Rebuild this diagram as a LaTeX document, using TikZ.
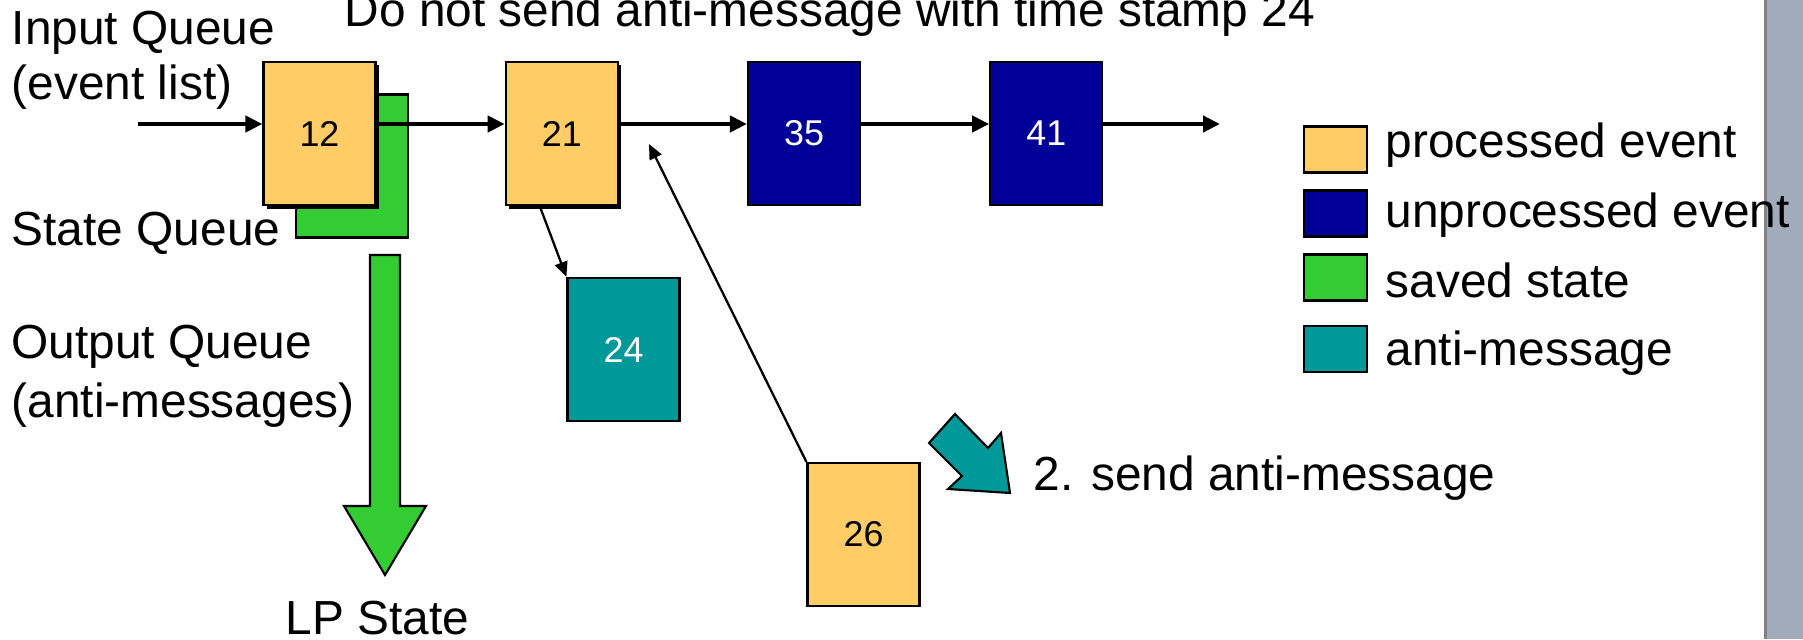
\documentclass[tikz,border=0pt]{standalone}
\usepackage{fontspec}
\setmainfont{Liberation Sans}
\usepackage{xcolor}
\usepackage{tikz}
\usetikzlibrary{positioning, arrows.meta, shadows}
\definecolor{procC}{HTML}{FFCC66}
\definecolor{unprocC}{HTML}{000099}
\definecolor{savedC}{HTML}{33CC33}
\definecolor{antiC}{HTML}{009999}
\definecolor{barC}{HTML}{A1ABB9}
\newcommand{\lbltxt}{\fontsize{13.6}{16}\selectfont}
\newcommand{\numtxt}{\fontsize{10.2}{12}\selectfont}
\tikzstyle{Arrow} = [line width=1.25pt, -{Triangle[length=0.17cm, width=0.16cm]}]
\tikzstyle{ThinArrow} = [line width=0.65pt, -{Triangle[length=0.15cm, width=0.13cm]}]
\tikzstyle{Event} = [draw, line width=0.6pt, minimum width=1.12cm, minimum height=1.43cm, inner sep=0pt, font=\numtxt]
\tikzstyle{Processed} = [Event, fill=procC, drop shadow={shadow xshift=0.035cm, shadow yshift=-0.035cm, fill=black, opacity=1}]
\tikzstyle{Unprocessed} = [Event, fill=unprocC, text=white]
\tikzstyle{Saved} = [Event, fill=savedC]
\tikzstyle{Anti} = [Event, fill=antiC, text=white]
\tikzstyle{Swatch} = [draw, line width=0.6pt, minimum width=0.63cm, minimum height=0.46cm, inner sep=0pt]
\tikzstyle{Label} = [anchor=base west, inner sep=0pt, font=\lbltxt]

\begin{document}
\begin{tikzpicture}[x=0.01cm, y=-0.01cm, node distance=1.28cm]
	\useasboundingbox (0,0) rectangle (1803,639);
	\fill[barC] (1764,0) rectangle (1803,639);
	\draw[black!50, line width=0.85pt] (1765.5,0) -- (1765.5,639);

	\node[Label] (title) at (344,26) {Do not send anti-message with time stamp 24};
	\node[Label] (iq1) at (11,44) {Input Queue};
	\node[Label] (iq2) at (11,99) {(event list)};
	\node[Label] (sq) at (11,245) {State Queue};
	\node[Label] (oq1) at (11,358) {Output Queue};
	\node[Label] (oq2) at (11,417) {(anti-messages)};
	\node[Label] (lp) at (285,634) {LP State};

	\node[Saved] (st) at (352,166) {};
	\node[Processed] (12) at (319.5,133.5) {12};
	\node[Processed, right =of 12] (21) {21};
	\node[Unprocessed, right =of 21] (35) {35};
	\node[Unprocessed, right =of 35] (41) {41};
	\node[Anti] (24) at (623.5,349.5) {24};
	\node[Event, fill=procC] (26) at (863.5,534.5) {26};

	\coordinate (in) at (138,124);
	\coordinate (out) at (1220,124);
	\coordinate (back) at (649,144);

	\draw[Arrow] (in) -- (in -| 12.west);
	\draw[Arrow] (in -| 12.east) -- (in -| 21.west);
	\draw[Arrow] (in -| 21.east) -- (in -| 35.west);
	\draw[Arrow] (in -| 35.east) -- (in -| 41.west);
	\draw[Arrow] (in -| 41.east) -- (out);
	\draw[ThinArrow] ([xshift=-0.22cm]21.south) -- (24.north west);
	\draw[ThinArrow] (26.north west) -- (back);

	\draw[fill=savedC, line width=0.6pt] (370,255) -- (400,255) -- (400,506) -- (426,506)
		-- (385,575) -- (344,506) -- (370,506) -- cycle;
	\draw[fill=antiC, line width=0.6pt] (955,414) -- (988,448) -- (1001,433) -- (1010,493)
		-- (948,489) -- (962,476) -- (929,443) -- cycle;
	\node[Label] (send) at (1033,490) {2. send anti-message};

	\node[Swatch, fill=procC] (l1) at (1335.5,149.5) {};
	\node[Swatch, fill=unprocC] (l2) at (1335.5,213.5) {};
	\node[Swatch, fill=savedC] (l3) at (1335.5,277.5) {};
	\node[Swatch, fill=antiC] (l4) at (1335.5,349) {};
	\node[Label] (t1) at (1385,157) {processed event};
	\node[Label] (t2) at (1385,227) {unprocessed event};
	\node[Label] (t3) at (1385,297) {saved state};
	\node[Label] (t4) at (1385,365) {anti-message};
\end{tikzpicture}
\end{document}
